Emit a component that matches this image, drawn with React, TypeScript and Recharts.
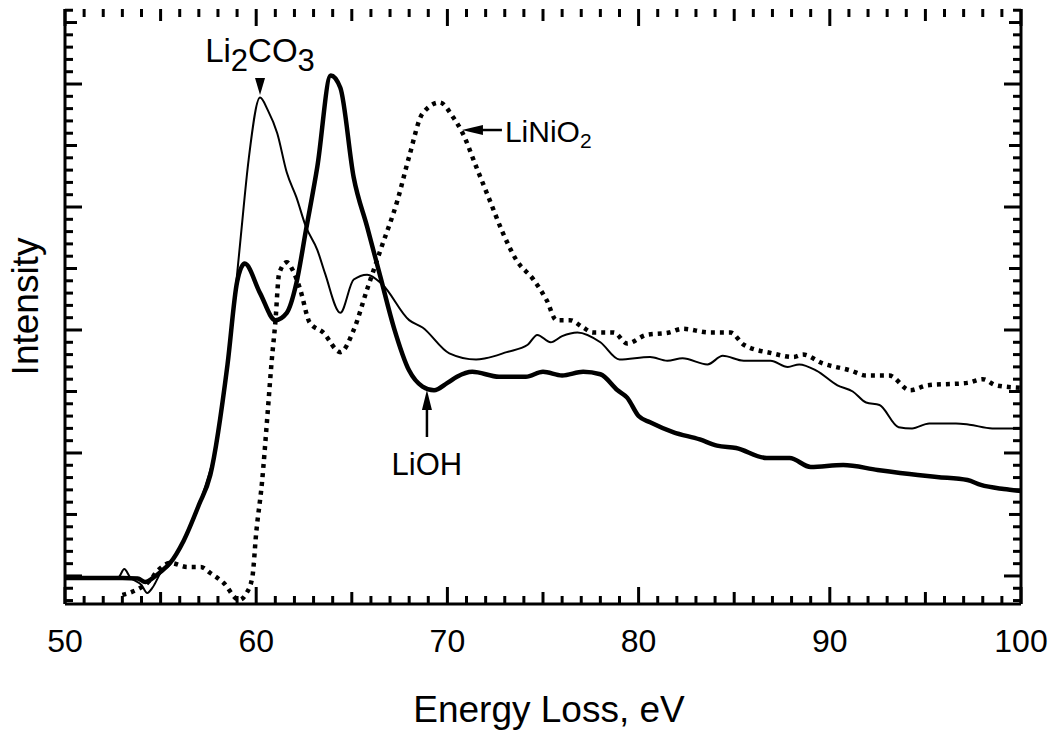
import React from 'react';
import { LineChart, Line, XAxis, YAxis, ReferenceDot, ReferenceLine } from 'recharts';

// Li2CO3 (thin solid)
const li2co3Energy = [50, 51, 52, 52.8, 53.1, 53.4, 54.0, 54.3, 54.6, 55.0, 55.5, 56.2, 57.1, 57.6, 57.8, 58.5, 58.8, 59.2, 59.6, 60.2, 60.6, 61.1, 61.6, 62.1, 62.6, 63.2, 63.6, 64.4, 65.1, 65.8, 66.6, 68.0, 68.7, 70.1, 71.5, 72.0, 73.1, 74.2, 74.7, 75.4, 76.0, 76.8, 78.0, 79.0, 80.6, 81.5, 82.3, 83.6, 84.4, 85.5, 86.9, 87.8, 88.4, 89.3, 90.4, 91.2, 91.9, 92.6, 93.6, 94.3, 95.2, 96.6, 97.3, 98.5, 100];
const li2co3Intensity = [-0.16, -0.16, -0.16, -0.08, 0.57, -0.1, -0.73, -1.38, -0.9, 0.24, 0.95, 2.85, 6.18, 8.62, 9.67, 17.3, 21.4, 27.7, 33.8, 38.9, 37.9, 36.0, 32.8, 30.8, 28.4, 26.5, 24.6, 21.4, 24.1, 24.5, 23.7, 20.8, 20.2, 18.1, 17.6, 17.7, 18.2, 18.8, 19.6, 19.0, 19.5, 19.8, 19.0, 17.6, 17.8, 17.5, 17.7, 17.2, 17.9, 17.5, 17.5, 17.0, 17.2, 16.7, 15.5, 15.0, 14.1, 13.9, 12.1, 12.0, 12.4, 12.4, 12.3, 12.0, 12.0];

// LiOH (thick solid)
const liohEnergy = [50, 51, 52, 53, 53.8, 54.2, 54.6, 55.0, 55.5, 56.2, 57.0, 57.6, 58.5, 59.0, 59.4, 60.2, 61.0, 61.6, 62.1, 62.6, 63.2, 63.9, 64.4, 65.1, 65.8, 66.5, 67.2, 68.0, 68.7, 69.3, 70.0, 70.5, 71.3, 72.7, 74.1, 75.0, 76.0, 77.1, 78.0, 78.9, 79.4, 80.0, 80.6, 81.8, 83.2, 84.1, 85.1, 86.7, 87.9, 89.0, 90.7, 92.5, 94.6, 95.6, 97.2, 97.9, 99.1, 100];
const liohIntensity = [-0.16, -0.16, -0.16, -0.16, -0.2, -0.5, -0.16, 0.33, 1.06, 2.85, 5.77, 8.21, 17.2, 23.9, 25.4, 23.0, 20.8, 21.4, 23.8, 28.1, 33.3, 40.7, 39.7, 32.4, 28.4, 24.3, 20.2, 16.7, 15.4, 15.1, 15.7, 16.2, 16.6, 16.2, 16.2, 16.6, 16.3, 16.6, 16.4, 15.1, 14.5, 13.0, 12.5, 11.7, 11.1, 10.6, 10.4, 9.59, 9.59, 8.86, 9.02, 8.62, 8.21, 8.05, 7.8, 7.4, 7.07, 6.91];

// LiNiO2 (dotted)
const linio2Energy = [53.0, 53.5, 54.3, 55.0, 55.5, 56.4, 57.1, 57.6, 58.3, 59.1, 59.5, 59.8, 60.0, 60.3, 60.6, 60.8, 61.0, 61.2, 61.6, 61.9, 62.3, 62.8, 63.5, 64.4, 65.1, 65.8, 66.5, 67.4, 68.0, 68.7, 69.6, 70.3, 70.8, 71.5, 72.2, 72.9, 73.6, 74.5, 75.2, 75.7, 76.4, 77.1, 77.6, 78.7, 79.4, 80.4, 81.6, 82.3, 83.7, 84.8, 85.5, 87.0, 88.1, 88.6, 89.6, 91.1, 91.9, 93.1, 94.2, 95.1, 97.2, 98.0, 98.7, 100];
const linio2Intensity = [-1.54, -1.3, -0.57, 0.65, 1.06, 0.73, 0.73, 0.24, -0.57, -1.95, -1.38, -0.08, 3.5, 7.56, 13.3, 17.3, 20.6, 24.6, 25.5, 24.9, 23.3, 20.6, 19.8, 18.2, 20.0, 23.3, 26.5, 30.6, 34.1, 37.6, 38.5, 37.3, 36.0, 33.3, 30.6, 27.9, 25.7, 24.1, 22.4, 20.8, 20.8, 20.2, 19.8, 19.8, 18.9, 19.6, 19.8, 20.1, 19.8, 19.8, 18.8, 18.1, 17.8, 18.0, 17.3, 16.7, 16.3, 16.3, 15.1, 15.5, 15.7, 16.0, 15.5, 15.3];

const xTickLabels = [50, 60, 70, 80, 90, 100];
const xDomain: [number, number] = [50, 100];
const yDomain: [number, number] = [-2.28, 46.1];
const xMinorTicks = Array.from({ length: 51 }, (_, i) => 50 + i);
const yMinorTicks = Array.from({ length: 49 }, (_, i) => -2 + i);

const zip = (xs: number[], ys: number[]) => xs.map((e, i) => ({ e, v: ys[i] }));
const li2co3Data = zip(li2co3Energy, li2co3Intensity);
const liohData = zip(liohEnergy, liohIntensity);
const linio2Data = zip(linio2Energy, linio2Intensity);

// pixel sizes of the plot, used to convert tick lengths into axis units
const PLOT_W = 956;
const PLOT_H = 595;
const PX_X = (xDomain[1] - xDomain[0]) / PLOT_W;
const PX_Y = (yDomain[1] - yDomain[0]) / PLOT_H;

const FONT = '"Liberation Sans", Arial, Helvetica, sans-serif';
const tickLen = (v: number) => {
  const r = Math.round(v);
  if (r % 10 === 0) return 17;
  if (r % 5 === 0) return 12;
  return 8;
};

const BottomLabel = (p: any) => {
  const v = p.payload.value;
  return (
    <text x={p.x} y={p.y + 48} textAnchor="middle" fontSize={32} fontFamily={FONT} fill="#000">
      {v}
    </text>
  );
};

const Li2co3Mark = (p: any) => {
  const { cx, cy } = p;
  return (
    <g>
      <polygon points={`${cx},${cy} ${cx - 5},${cy - 17} ${cx + 5},${cy - 17}`} fill="#000" />
      <text x={cx} y={cy - 33} textAnchor="middle" fontSize={33} fontFamily={FONT} fill="#000">
        <tspan>Li</tspan>
        <tspan fontSize={31} dy={9}>2</tspan>
        <tspan dy={-9}>CO</tspan>
        <tspan fontSize={31} dy={9}>3</tspan>
      </text>
    </g>
  );
};
const Linio2Mark = (p: any) => {
  const { cx, cy } = p;
  return (
    <g>
      <polygon points={`${cx},${cy} ${cx + 21},${cy - 5} ${cx + 21},${cy + 5}`} fill="#000" />
      <line x1={cx + 18} x2={cx + 40} y1={cy} y2={cy} stroke="#000" strokeWidth={2.5} />
      <text x={cx + 43} y={cy + 12} fontSize={30} fontFamily={FONT} fill="#000">
        <tspan>LiNiO</tspan>
        <tspan fontSize={21} dy={6}>2</tspan>
      </text>
    </g>
  );
};
const LiohMark = (p: any) => {
  const { cx, cy } = p;
  return (
    <g>
      <polygon points={`${cx},${cy} ${cx - 5},${cy + 20} ${cx + 5},${cy + 20}`} fill="#000" />
      <line x1={cx} x2={cx} y1={cy + 18} y2={cy + 47} stroke="#000" strokeWidth={2.5} />
      <text x={cx} y={cy + 85} textAnchor="middle" fontSize={31} fontFamily={FONT} fill="#000">
        LiOH
      </text>
    </g>
  );
};

const axisLine = { stroke: '#000', strokeWidth: 3 };
const tickStroke = { stroke: '#000', strokeWidth: 3 };

export default function App() {
  return (
    <div style={{ position: 'absolute', left: 0, top: 0, width: 1048, height: 732, background: '#fff' }}>
      <LineChart width={1048} height={732} margin={{ top: 9, right: 0, bottom: 0, left: 0 }}>
        <XAxis
          xAxisId="b"
          dataKey="e"
          type="number"
          domain={xDomain}
          ticks={xTickLabels}
          interval={0}
          allowDataOverflow
          height={128}
          tickSize={0}
          tickMargin={0}
          tickLine={false}
          axisLine={axisLine}
          tick={BottomLabel}
          label={{ value: 'Energy Loss, eV', position: 'insideBottom', offset: 10, dx: 6, style: { fontSize: 37, fontFamily: FONT, fill: '#000' } }}
        />
        <XAxis
          xAxisId="t"
          orientation="top"
          dataKey="e"
          type="number"
          domain={xDomain}
          allowDataOverflow
          height={0}
          tick={false}
          tickLine={false}
          axisLine={axisLine}
        />
        <YAxis
          yAxisId="l"
          type="number"
          domain={yDomain}
          allowDataOverflow
          width={65}
          tick={false}
          tickLine={false}
          axisLine={axisLine}
          label={{ value: 'Intensity', angle: -90, position: 'insideLeft', offset: 25, style: { textAnchor: 'middle', fontSize: 37, fontFamily: FONT, fill: '#000' } }}
        />
        <YAxis
          yAxisId="r"
          orientation="right"
          type="number"
          domain={yDomain}
          allowDataOverflow
          width={27}
          tick={false}
          tickLine={false}
          axisLine={axisLine}
        />
        {xMinorTicks.map((t) => (
          <ReferenceLine
            key={`xb${t}`}
            xAxisId="b"
            yAxisId="l"
            ifOverflow="visible"
            segment={[{ x: t, y: yDomain[0] }, { x: t, y: yDomain[0] + tickLen(t) * PX_Y }]}
            {...tickStroke}
          />
        ))}
        {xMinorTicks.map((t) => (
          <ReferenceLine
            key={`xt${t}`}
            xAxisId="b"
            yAxisId="l"
            ifOverflow="visible"
            segment={[{ x: t, y: yDomain[1] }, { x: t, y: yDomain[1] - tickLen(t) * PX_Y }]}
            {...tickStroke}
          />
        ))}
        {yMinorTicks.map((t) => (
          <ReferenceLine
            key={`yl${t}`}
            xAxisId="b"
            yAxisId="l"
            ifOverflow="visible"
            segment={[{ x: xDomain[0], y: t }, { x: xDomain[0] + tickLen(t) * PX_X, y: t }]}
            {...tickStroke}
          />
        ))}
        {yMinorTicks.map((t) => (
          <ReferenceLine
            key={`yr${t}`}
            xAxisId="b"
            yAxisId="l"
            ifOverflow="visible"
            segment={[{ x: xDomain[1], y: t }, { x: xDomain[1] - tickLen(t) * PX_X, y: t }]}
            {...tickStroke}
          />
        ))}
        <Line xAxisId="b" yAxisId="l" data={linio2Data} dataKey="v" type="monotone" stroke="#000" strokeWidth={4.5} strokeDasharray="4 5" dot={false} isAnimationActive={false} />
        <Line xAxisId="b" yAxisId="l" data={li2co3Data} dataKey="v" type="monotone" stroke="#000" strokeWidth={2} dot={false} isAnimationActive={false} />
        <Line xAxisId="b" yAxisId="l" data={liohData} dataKey="v" type="monotone" stroke="#000" strokeWidth={4.5} dot={false} isAnimationActive={false} />
        <ReferenceDot xAxisId="b" yAxisId="l" x={60.2} y={39.1} shape={Li2co3Mark} />
        <ReferenceDot xAxisId="b" yAxisId="l" x={70.76} y={36.26} shape={Linio2Mark} />
        <ReferenceDot xAxisId="b" yAxisId="l" x={68.93} y={15.12} shape={LiohMark} />
      </LineChart>
    </div>
  );
}
